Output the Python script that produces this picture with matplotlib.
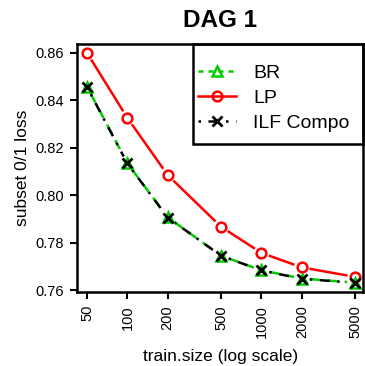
import matplotlib.pyplot as plt
import numpy as np
from matplotlib.patches import Rectangle

plt.rcParams['font.family'] = ['Liberation Sans', 'DejaVu Sans']

# Data
train_size = [50, 100, 200, 500, 1000, 2000, 5000]
br = [0.8458, 0.8135, 0.7907, 0.7745, 0.7684, 0.7649, 0.7632]
lp = [0.8600, 0.8326, 0.8085, 0.7867, 0.7757, 0.7696, 0.7656]
ilf = [0.8456, 0.8134, 0.7906, 0.7745, 0.7683, 0.7648, 0.7631]
tick_labels = ['50', '100', '200', '500', '1000', '2000', '5000']
yticks = [0.76, 0.78, 0.80, 0.82, 0.84, 0.86]

GREEN = '#00cc00'

fig = plt.figure(figsize=(3.65, 3.66), dpi=100)
ax = fig.add_axes([0.211, 0.202, 0.784, 0.678])
ax.set_xscale('log')
ax.set_xlim(42.1, 5740)
ax.set_ylim(0.7592, 0.8638)


def gapped(x, y, gap, **kw):
    # R type="b": leave a gap around each point
    pts = ax.transData.transform(np.column_stack([x, y]))
    inv = ax.transData.inverted()
    for i in range(len(pts) - 1):
        p, q = pts[i], pts[i + 1]
        d = q - p
        L = np.hypot(*d)
        if L <= 2 * gap:
            continue
        u = d / L
        seg = inv.transform(np.array([p + u * gap, q - u * gap]))
        ax.plot(seg[:, 0], seg[:, 1], **kw)


gapped(train_size, br, 8, color=GREEN, lw=1.8, ls=(0, (4, 3)))
gapped(train_size, lp, 9, color='red', lw=1.8, ls='-')
gapped(train_size, ilf, 8, color='black', lw=1.8, ls=(0, (1, 3, 4, 3)))

ax.plot(train_size, br, ls='none', marker='^', ms=7.5, mfc='none', mec=GREEN, mew=1.8)
ax.plot(train_size, lp, ls='none', marker='o', ms=7, mfc='none', mec='red', mew=1.8)
ax.plot(train_size, ilf, ls='none', marker='x', ms=6.5, mec='black', mew=2)

# legend (R style box drawn separately)
h_br, = ax.plot([], [], color=GREEN, lw=1.8, ls=(0, (2, 2)), marker='^', ms=7.5, mfc='none', mew=1.8)
h_lp, = ax.plot([], [], color='red', lw=1.8, marker='o', ms=7, mfc='none', mew=1.8)
h_ilf, = ax.plot([], [], color='black', lw=1.8, ls=(0, (1, 3, 4, 3)), marker='x', ms=6.5, mew=2)
leg = ax.legend([h_br, h_lp, h_ilf], ['BR', 'LP', 'ILF Compo'],
                loc='upper left', bbox_to_anchor=(0.423, 0.919),
                borderaxespad=0, frameon=False, fontsize=14,
                handlelength=1.95, handletextpad=0.9, labelspacing=0.38,
                borderpad=0, numpoints=1)
ax.add_patch(Rectangle((0.4056, 0.597), 0.5944, 0.403, transform=ax.transAxes,
                       fill=False, edgecolor='black', lw=1.8, clip_on=False, zorder=5))

ax.set_xticks(train_size)
ax.set_xticklabels(tick_labels, rotation=90)
ax.minorticks_off()
ax.set_yticks(yticks)
ax.set_yticklabels(['%.2f' % v for v in yticks])
ax.tick_params(labelsize=10.5, length=5, width=1.5, pad=4.3)

for s in ax.spines.values():
    s.set_linewidth(1.8)

ax.set_title('DAG 1', fontsize=17.5, fontweight='bold', pad=12)
ax.set_xlabel('train.size (log scale)', fontsize=12.5, labelpad=8)
ax.set_ylabel('subset 0/1 loss', fontsize=12.5, labelpad=4)

fig.savefig('out.png', dpi=100)
